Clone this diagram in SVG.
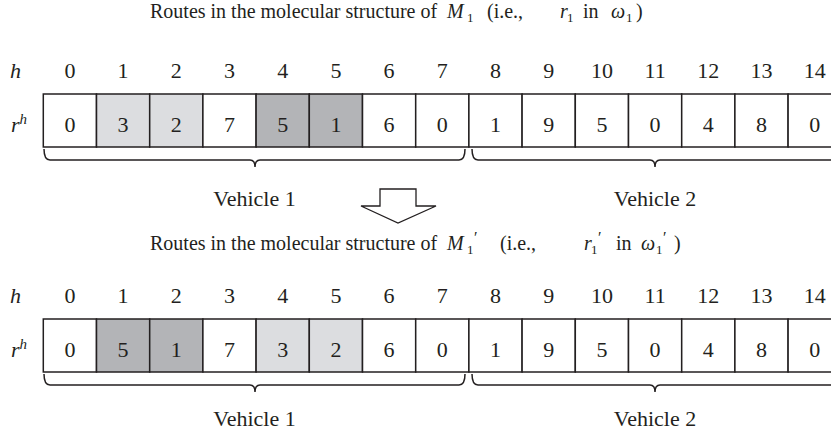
<svg xmlns="http://www.w3.org/2000/svg" width="831" height="432" viewBox="0 0 831 432">
<style>
.t{font-family:"Liberation Serif","Times New Roman",Times,serif;font-size:22px;fill:#231f20}
.ti{font-size:20px}
.i{font-style:italic}
.c{text-anchor:middle}
.s{font-size:13px;font-style:normal}
.p{font-size:16px;font-style:normal}
.cell{stroke:#231f20;stroke-width:1.5;fill:#fff}
.lg{fill:#dcdde0}
.dg{fill:#b3b4b7}
.brace{fill:none;stroke:#231f20;stroke-width:1.5}
</style>
<rect width="831" height="432" fill="#fff"/>

<g id="title1">
<text class="t ti"><tspan x="150" y="18">Routes in the molecular structure of</tspan><tspan class="i" x="447" y="18">M</tspan><tspan class="s" x="467" y="22">1</tspan><tspan x="487" y="18">(i.e.,</tspan><tspan class="i" x="560" y="18">r</tspan><tspan class="s" x="567" y="22">1</tspan><tspan x="583" y="18">in</tspan><tspan class="i" x="611" y="18">ω</tspan><tspan class="s" x="626" y="22">1</tspan><tspan x="636" y="18">)</tspan></text>
</g>

<g id="h1">
<text class="t i" x="10" y="78">h</text>
<text class="t c" y="78"><tspan x="69.9">0</tspan><tspan x="123.1">1</tspan><tspan x="176.3">2</tspan><tspan x="229.5">3</tspan><tspan x="282.7">4</tspan><tspan x="335.9">5</tspan><tspan x="389.1">6</tspan><tspan x="442.3">7</tspan><tspan x="495.5">8</tspan><tspan x="548.7">9</tspan><tspan x="601.9">10</tspan><tspan x="655.1">11</tspan><tspan x="708.3">12</tspan><tspan x="761.5">13</tspan><tspan x="814.7">14</tspan></text>
</g>
<g id="rh1"><text class="t i" x="11" y="132">r<tspan dy="-8" style="font-size:15px">h</tspan></text></g>

<g id="route1">
<rect class="cell" x="43.3" y="94" width="53.2" height="53"/>
<rect class="cell lg" x="96.5" y="94" width="53.2" height="53"/>
<rect class="cell lg" x="149.7" y="94" width="53.2" height="53"/>
<rect class="cell" x="202.9" y="94" width="53.2" height="53"/>
<rect class="cell dg" x="256.1" y="94" width="53.2" height="53"/>
<rect class="cell dg" x="309.3" y="94" width="53.2" height="53"/>
<rect class="cell" x="362.5" y="94" width="53.2" height="53"/>
<rect class="cell" x="415.7" y="94" width="53.2" height="53"/>
<rect class="cell" x="468.9" y="94" width="53.2" height="53"/>
<rect class="cell" x="522.1" y="94" width="53.2" height="53"/>
<rect class="cell" x="575.3" y="94" width="53.2" height="53"/>
<rect class="cell" x="628.5" y="94" width="53.2" height="53"/>
<rect class="cell" x="681.7" y="94" width="53.2" height="53"/>
<rect class="cell" x="734.9" y="94" width="53.2" height="53"/>
<rect class="cell" x="788.1" y="94" width="53.2" height="53"/>
<text class="t c" y="132"><tspan x="69.9">0</tspan><tspan x="123.1">3</tspan><tspan x="176.3">2</tspan><tspan x="229.5">7</tspan><tspan x="282.7">5</tspan><tspan x="335.9">1</tspan><tspan x="389.1">6</tspan><tspan x="442.3">0</tspan><tspan x="495.5">1</tspan><tspan x="548.7">9</tspan><tspan x="601.9">5</tspan><tspan x="655.1">0</tspan><tspan x="708.3">4</tspan><tspan x="761.5">8</tspan><tspan x="814.7">0</tspan></text>
</g>

<g id="braces1">
<path class="brace" d="M44 149 Q44 160 50 160 L250 160 Q255 160 255 167 Q255 160 260 160 L459 160 Q465 160 465 149"/>
<path class="brace" d="M472 149 Q472 160 478 160 L650 160 Q655 160 655 167 Q655 160 660 160 L832 160 Q838 160 838 149"/>
</g>
<g id="vehicles1">
<text class="t c" x="254.5" y="206">Vehicle 1</text>
<text class="t c" x="655" y="206">Vehicle 2</text>
</g>

<g id="arrow">
<polygon points="380,189 416,189 416,206 436,206 398,223 361,206 380,206" fill="#fff" stroke="#231f20" stroke-width="1.3"/>
</g>

<g id="title2">
<text class="t ti"><tspan x="150" y="250">Routes in the molecular structure of</tspan><tspan class="i" x="447" y="250">M</tspan><tspan class="s" x="467" y="254">1</tspan><tspan class="p" x="474" y="243">′</tspan><tspan x="500" y="250">(i.e.,</tspan><tspan class="i" x="584" y="250">r</tspan><tspan class="s" x="591" y="254">1</tspan><tspan class="p" x="598" y="243">′</tspan><tspan x="616" y="250">in</tspan><tspan class="i" x="641" y="250">ω</tspan><tspan class="s" x="656" y="254">1</tspan><tspan class="p" x="663" y="243">′</tspan><tspan x="674" y="250">)</tspan></text>
</g>

<g id="h2">
<text class="t i" x="10" y="303">h</text>
<text class="t c" y="303"><tspan x="69.9">0</tspan><tspan x="123.1">1</tspan><tspan x="176.3">2</tspan><tspan x="229.5">3</tspan><tspan x="282.7">4</tspan><tspan x="335.9">5</tspan><tspan x="389.1">6</tspan><tspan x="442.3">7</tspan><tspan x="495.5">8</tspan><tspan x="548.7">9</tspan><tspan x="601.9">10</tspan><tspan x="655.1">11</tspan><tspan x="708.3">12</tspan><tspan x="761.5">13</tspan><tspan x="814.7">14</tspan></text>
</g>
<g id="rh2"><text class="t i" x="11" y="357">r<tspan dy="-8" style="font-size:15px">h</tspan></text></g>

<g id="route2">
<rect class="cell" x="43.3" y="319" width="53.2" height="53"/>
<rect class="cell dg" x="96.5" y="319" width="53.2" height="53"/>
<rect class="cell dg" x="149.7" y="319" width="53.2" height="53"/>
<rect class="cell" x="202.9" y="319" width="53.2" height="53"/>
<rect class="cell lg" x="256.1" y="319" width="53.2" height="53"/>
<rect class="cell lg" x="309.3" y="319" width="53.2" height="53"/>
<rect class="cell" x="362.5" y="319" width="53.2" height="53"/>
<rect class="cell" x="415.7" y="319" width="53.2" height="53"/>
<rect class="cell" x="468.9" y="319" width="53.2" height="53"/>
<rect class="cell" x="522.1" y="319" width="53.2" height="53"/>
<rect class="cell" x="575.3" y="319" width="53.2" height="53"/>
<rect class="cell" x="628.5" y="319" width="53.2" height="53"/>
<rect class="cell" x="681.7" y="319" width="53.2" height="53"/>
<rect class="cell" x="734.9" y="319" width="53.2" height="53"/>
<rect class="cell" x="788.1" y="319" width="53.2" height="53"/>
<text class="t c" y="357"><tspan x="69.9">0</tspan><tspan x="123.1">5</tspan><tspan x="176.3">1</tspan><tspan x="229.5">7</tspan><tspan x="282.7">3</tspan><tspan x="335.9">2</tspan><tspan x="389.1">6</tspan><tspan x="442.3">0</tspan><tspan x="495.5">1</tspan><tspan x="548.7">9</tspan><tspan x="601.9">5</tspan><tspan x="655.1">0</tspan><tspan x="708.3">4</tspan><tspan x="761.5">8</tspan><tspan x="814.7">0</tspan></text>
</g>

<g id="braces2">
<path class="brace" d="M44 374 Q44 385 50 385 L250 385 Q255 385 255 392 Q255 385 260 385 L459 385 Q465 385 465 374"/>
<path class="brace" d="M472 374 Q472 385 478 385 L650 385 Q655 385 655 392 Q655 385 660 385 L832 385 Q838 385 838 374"/>
</g>
<g id="vehicles2">
<text class="t c" x="254.5" y="426">Vehicle 1</text>
<text class="t c" x="655" y="426">Vehicle 2</text>
</g>
</svg>
